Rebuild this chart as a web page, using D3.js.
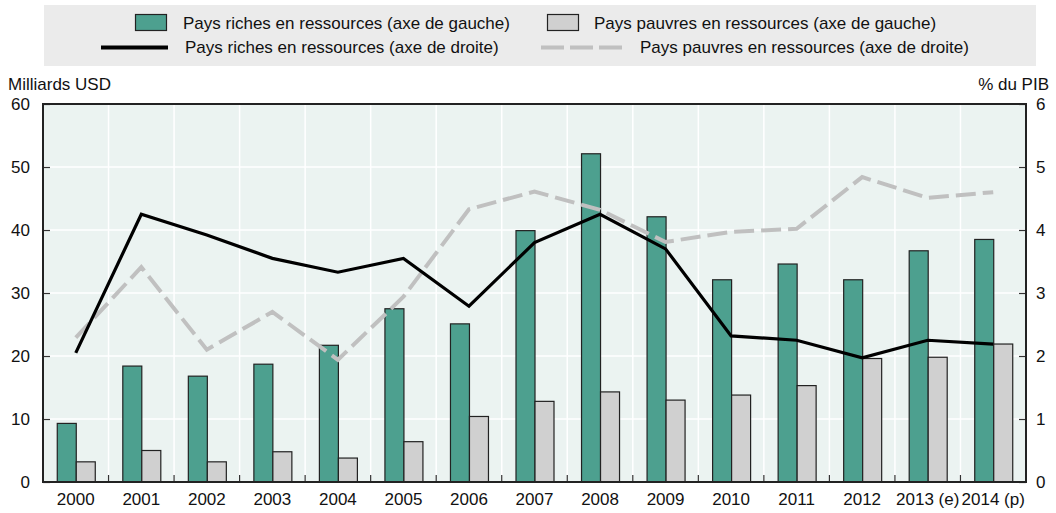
<!DOCTYPE html>
<html>
<head>
<meta charset="utf-8">
<script src="https://cdn.jsdelivr.net/npm/d3@7"></script>
<style>
  body { margin: 0; background: #fff; }
  svg { display: block; font-family: "Liberation Sans", Arial, sans-serif; }
  .lbl { font-size: 17px; fill: #111; }
</style>
</head>
<body>
<svg id="chart" width="1056" height="513"></svg>
<script>
/* data */
var years = ["2000","2001","2002","2003","2004","2005","2006","2007","2008","2009","2010","2011","2012","2013 (e)","2014 (p)"];
var richBars = [9.3, 18.4, 16.8, 18.7, 21.7, 27.5, 25.1, 39.9, 52.1, 42.1, 32.1, 34.6, 32.1, 36.7, 38.5];
var poorBars = [3.2, 5.0, 3.2, 4.8, 3.8, 6.4, 10.4, 12.8, 14.3, 13.0, 13.8, 15.3, 19.6, 19.8, 21.9];
var richLine = [2.05, 4.25, 3.92, 3.55, 3.33, 3.55, 2.79, 3.80, 4.25, 3.70, 2.32, 2.25, 1.97, 2.25, 2.19];
var poorLine = [2.29, 3.41, 2.10, 2.70, 1.94, 2.94, 4.33, 4.61, 4.32, 3.81, 3.97, 4.02, 4.84, 4.51, 4.60];
var leftTicks = [0, 10, 20, 30, 40, 50, 60];
var rightTicks = [0, 1, 2, 3, 4, 5, 6];

var TEAL = "#4da08f", GREY = "#d0d0d0", DASH = "#c0c0c0";

var svg = d3.select("#chart");
var margin = {top: 104, right: 30, bottom: 31, left: 43};
var W = 1056, H = 513;
var width = W - margin.left - margin.right;
var height = H - margin.top - margin.bottom;

var x = d3.scaleBand().domain(years).range([0, width]).paddingInner(0).paddingOuter(0);
var yL = d3.scaleLinear().domain([0, 60]).range([height, 0]);
var yR = d3.scaleLinear().domain([0, 6]).range([height, 0]);
var barW = 19;

// legend
var leg = svg.append("g");
leg.append("rect").attr("x", 44).attr("y", 5).attr("width", 992).attr("height", 61).attr("fill", "#ebebeb");
leg.append("rect").attr("x", 135.5).attr("y", 14.5).attr("width", 31).attr("height", 16)
   .attr("fill", TEAL).attr("stroke", "#222").attr("stroke-width", 1.2);
leg.append("text").attr("class", "lbl").attr("x", 183).attr("y", 29).text("Pays riches en ressources (axe de gauche)");
leg.append("rect").attr("x", 547.5).attr("y", 14.5).attr("width", 31).attr("height", 16)
   .attr("fill", GREY).attr("stroke", "#222").attr("stroke-width", 1.2);
leg.append("text").attr("class", "lbl").attr("x", 594).attr("y", 29).text("Pays pauvres en ressources (axe de gauche)");
leg.append("line").attr("x1", 101).attr("x2", 168).attr("y1", 47.5).attr("y2", 47.5)
   .attr("stroke", "#000").attr("stroke-width", 4);
leg.append("text").attr("class", "lbl").attr("x", 185).attr("y", 53).text("Pays riches en ressources (axe de droite)");
leg.append("line").attr("x1", 541).attr("x2", 622).attr("y1", 47.5).attr("y2", 47.5)
   .attr("stroke", DASH).attr("stroke-width", 4).attr("stroke-dasharray", "23,6");
leg.append("text").attr("class", "lbl").attr("x", 640).attr("y", 53).text("Pays pauvres en ressources (axe de droite)");

// axis titles
svg.append("text").attr("class", "lbl").attr("x", 8).attr("y", 90).text("Milliards USD");
svg.append("text").attr("class", "lbl").attr("x", 1049).attr("y", 90).attr("text-anchor", "end").text("% du PIB");

var g = svg.append("g").attr("transform", "translate(" + margin.left + "," + margin.top + ")");

g.append("rect").attr("width", width).attr("height", height).attr("fill", "#ebf3f1");

// grid
g.append("g").selectAll("line").data(leftTicks.slice(1, -1)).join("line")
  .attr("x1", 0).attr("x2", width)
  .attr("y1", function (d) { return yL(d); }).attr("y2", function (d) { return yL(d); })
  .attr("stroke", "#fff").attr("stroke-width", 1.5);
g.append("g").selectAll("line").data(years.slice(1)).join("line")
  .attr("x1", function (d) { return x(d); }).attr("x2", function (d) { return x(d); })
  .attr("y1", 0).attr("y2", height)
  .attr("stroke", "#fff").attr("stroke-width", 1.5);

// bars
g.append("g").selectAll("rect").data(years).join("rect")
  .attr("x", function (d) { return x(d) + x.bandwidth() / 2 - barW + 0.5; })
  .attr("y", function (d, i) { return yL(richBars[i]); })
  .attr("width", barW)
  .attr("height", function (d, i) { return height - yL(richBars[i]); })
  .attr("fill", TEAL).attr("stroke", "#222").attr("stroke-width", 1.2);
g.append("g").selectAll("rect").data(years).join("rect")
  .attr("x", function (d) { return x(d) + x.bandwidth() / 2 + 0.5; })
  .attr("y", function (d, i) { return yL(poorBars[i]); })
  .attr("width", barW)
  .attr("height", function (d, i) { return height - yL(poorBars[i]); })
  .attr("fill", GREY).attr("stroke", "#222").attr("stroke-width", 1.2);

// lines
var line = d3.line()
  .x(function (d, i) { return x(years[i]) + x.bandwidth() / 2; })
  .y(function (d) { return yR(d); });
g.append("path").datum(poorLine).attr("d", line)
  .attr("fill", "none").attr("stroke", DASH).attr("stroke-width", 4).attr("stroke-dasharray", "20,7");
g.append("path").datum(richLine).attr("d", line)
  .attr("fill", "none").attr("stroke", "#000").attr("stroke-width", 3.2);

// axes
var xAxis = d3.axisBottom(x).tickSize(0).tickPadding(11);
var gx = g.append("g").attr("transform", "translate(0," + height + ")").call(xAxis);
gx.select(".domain").remove();
gx.selectAll("text").attr("font-size", null).attr("font-family", null)
  .style("font-size", "17px").attr("fill", "#111");
// category boundary ticks
g.append("g").selectAll("line").data(years.slice(1)).join("line")
  .attr("x1", function (d) { return x(d); }).attr("x2", function (d) { return x(d); })
  .attr("y1", height - 7).attr("y2", height)
  .attr("stroke", "#333").attr("stroke-width", 1.2);

var gl = g.append("g").call(d3.axisLeft(yL).tickValues(leftTicks).tickSize(-7).tickPadding(13));
var gr = g.append("g").attr("transform", "translate(" + width + ",0)")
  .call(d3.axisRight(yR).tickValues(rightTicks).tickFormat(d3.format("d")).tickSize(-7).tickPadding(10));
[gl, gr].forEach(function (a) {
  a.select(".domain").remove();
  a.selectAll("text").attr("font-size", null).attr("font-family", null).style("font-size", "17px").attr("fill", "#111");
  a.selectAll("line").attr("stroke", "#333").attr("stroke-width", 1.2);
});

// frame
g.append("rect").attr("width", width).attr("height", height)
  .attr("fill", "none").attr("stroke", "#222").attr("stroke-width", 2);
</script>
</body>
</html>
